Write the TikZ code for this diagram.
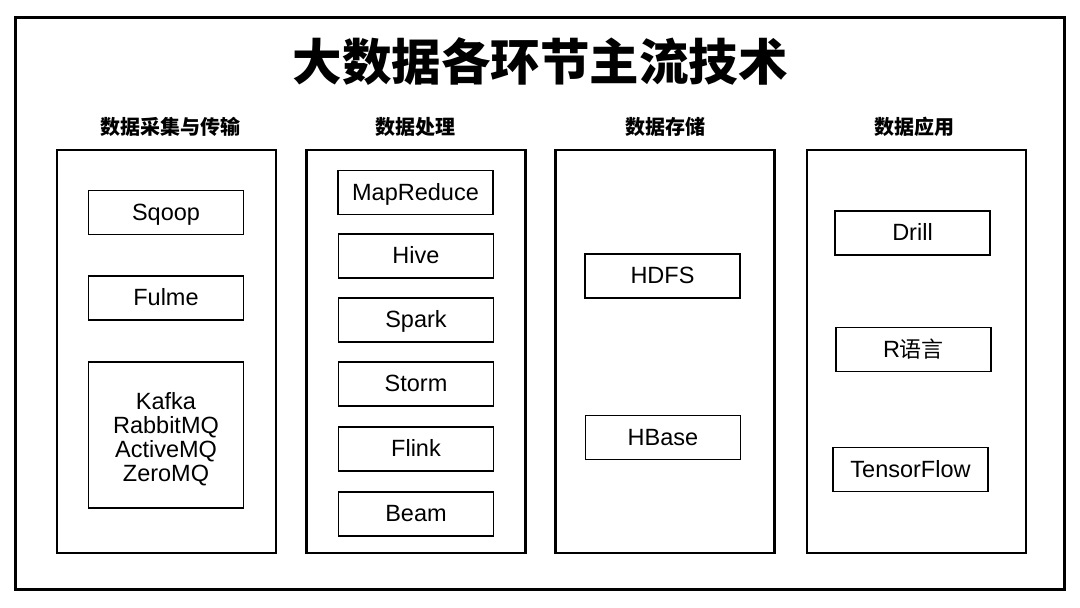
\documentclass[tikz,border=0pt]{standalone}
\usepackage{fontspec}
\newfontfamily\lib{Liberation Sans}
\newfontfamily\cjk{Noto Sans CJK SC}
\begin{document}
\begin{tikzpicture}[x=1pt,y=-1pt,
  outerbox/.style={draw,line width=3pt,minimum width=1049pt,minimum height=572pt,inner sep=0pt},
  colbox/.style={draw,line width=2.4pt,minimum width=219pt,minimum height=403pt,inner sep=0pt},
  tbox/.style={draw,line width=1.4pt,minimum width=155pt,minimum height=44pt,inner sep=0pt,text height=15pt,text depth=0pt,font=\lib\fontsize{23.5}{23.7}\selectfont,align=center},
  hdr/.style={inner sep=0pt,font=\cjk\bfseries\fontsize{20}{22}\selectfont},
  ttl/.style={inner sep=0pt,font=\cjk\bfseries\fontsize{49.5}{52}\selectfont}]
\useasboundingbox (0,0) rectangle (1080,608);
\fill[white] (0,0) rectangle (1080,608);
\node[outerbox] (outer) at (539.5,303) {};
\node[ttl] (title) at (540,62) {大数据各环节主流技术};
% headers
\node[hdr] (h1) at (170,127) {数据采集与传输};
\node[hdr] (h2) at (415,127) {数据处理};
\node[hdr] (h3) at (665,127) {数据存储};
\node[hdr] (h4) at (914,127) {数据应用};
% columns
\node[colbox] (c1) at (166.5,351.5) {};
\node[colbox] (c2) at (416,351.5) {};
\node[colbox] (c3) at (665,351.5) {};
\node[colbox] (c4) at (916.5,351.5) {};
% column 1
\node[tbox] (sqoop) at (166,212.5) {Sqoop};
\node[tbox] (fulme) at (166,298) {Fulme};
\node[tbox,minimum height=146pt,text height=92pt,text depth=0pt] (mq) at (166,435) {Kafka\\RabbitMQ\\ActiveMQ\\ZeroMQ};
% column 2
\node[tbox] (mr) at (415.5,192.5) {MapReduce};
\node[tbox] (hive) at (416,256) {Hive};
\node[tbox] (spark) at (416,320) {Spark};
\node[tbox] (storm) at (416,384) {Storm};
\node[tbox] (flink) at (416,449) {Flink};
\node[tbox] (beam) at (416,514) {Beam};
% column 3
\node[tbox] (hdfs) at (662.5,276) {HDFS};
\node[tbox] (hbase) at (663,437.5) {HBase};
% column 4
\node[tbox] (drill) at (912.5,233) {Drill};
\node[tbox] (rlang) at (913.5,349.5) {R{\cjk\fontsize{22}{24}\selectfont 语言}};
\node[tbox] (tf) at (910.5,469.5) {TensorFlow};
\end{tikzpicture}
\end{document}
